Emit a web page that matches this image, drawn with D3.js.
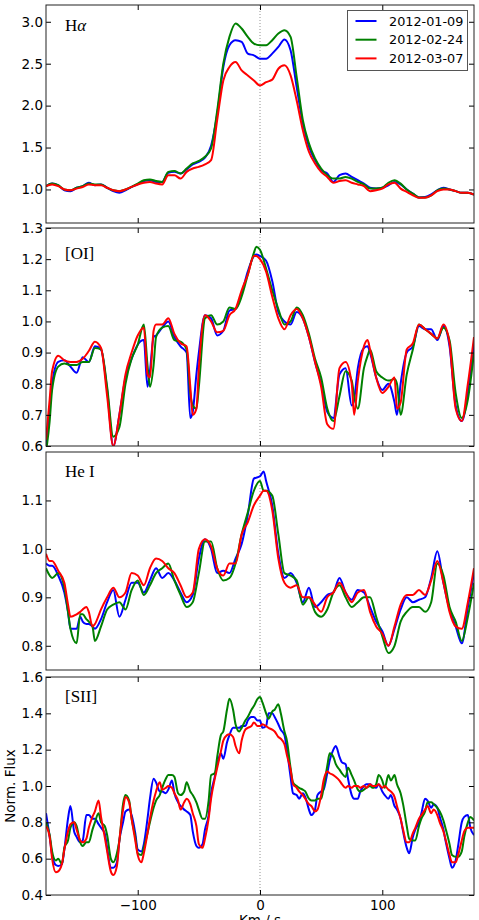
<!DOCTYPE html>
<html>
<head>
<meta charset="utf-8">
<script src="https://cdn.jsdelivr.net/npm/d3@7"></script>
<style>
body { margin: 0; background: #fff; }
</style>
</head>
<body>
<svg id="chart" width="479" height="920"></svg>
<script>
// dates / colours of the three spectra
var dates = ["2012-01-09", "2012-02-24", "2012-03-07"];
var lineColors = ["#0000ff", "#008000", "#ff0000"];
var lineNames = ["H\u03b1", "[OI]", "He I", "[SII]"];
var xTicks = [-100, 0, 100];

// H alpha
var haVel = [-175,-170,-165,-160,-155,-150,-145,-140,-135,-130,
    -125,-120,-115,-110,-105,-100,-95,-90,-85,-80,
    -75,-70,-65,-60,-55,-50,-45,-40,-35,-30,
    -25,-20,-15,-10,-5,0,5,10,15,20,
    25,30,35,40,45,50,55,60,65,70,
    75,80,85,90,95,100,105,110,115,120,
    125,130,135,140,145,150,155,160,165,170,
    175];
var haBlue = [1.04,1.07,1.05,0.99,0.98,1.02,1.04,1.08,1.05,1.06,
    1.02,0.98,0.96,0.99,1.03,1.06,1.10,1.11,1.09,1.09,
    1.20,1.21,1.19,1.24,1.30,1.33,1.38,1.52,1.90,2.46,
    2.72,2.78,2.76,2.62,2.60,2.56,2.56,2.62,2.70,2.79,
    2.66,2.22,1.79,1.51,1.35,1.23,1.19,1.09,1.17,1.19,
    1.15,1.11,1.07,1.02,1.01,1.02,1.05,1.09,1.06,1.00,
    0.95,0.905,0.91,0.94,0.99,1.02,1.00,0.98,0.96,0.96,
    0.94];
var haGreen = [1.04,1.07,1.05,1.00,0.99,1.02,1.04,1.07,1.06,1.06,
    1.02,0.99,0.98,1.00,1.03,1.07,1.11,1.12,1.10,1.09,
    1.21,1.22,1.19,1.25,1.31,1.34,1.39,1.49,1.94,2.50,
    2.82,2.98,2.92,2.82,2.74,2.72,2.72,2.78,2.86,2.90,
    2.82,2.34,1.83,1.55,1.37,1.25,1.17,1.13,1.13,1.15,
    1.13,1.09,1.06,1.01,1.01,1.02,1.08,1.11,1.07,1.00,
    0.95,0.905,0.905,0.93,0.99,1.01,1.00,0.98,0.96,0.96,
    0.94];
var haRed = [1.04,1.06,1.04,1.00,0.99,1.01,1.03,1.06,1.05,1.05,
    1.02,0.99,0.98,1.00,1.03,1.06,1.08,1.09,1.07,1.06,
    1.17,1.17,1.13,1.21,1.25,1.27,1.30,1.35,1.83,2.30,
    2.46,2.52,2.42,2.36,2.30,2.24,2.28,2.31,2.44,2.48,
    2.36,2.06,1.71,1.45,1.31,1.21,1.15,1.08,1.10,1.11,
    1.08,1.06,1.04,0.98,0.99,1.01,1.06,1.08,1.01,0.97,
    0.93,0.90,0.90,0.93,0.98,1.00,1.00,0.98,0.96,0.96,
    0.94];
var haTicks = [1.0, 1.5, 2.0, 2.5, 3.0];

// [OI]
var oiVel = [-175,-172,-170,-165,-160,-155,-150,-145,-140,-135,
    -130,-125,-120,-115,-110,-105,-100,-95,-92,-90,
    -87,-85,-80,-75,-70,-65,-60,-57,-55,-52,
    -50,-45,-40,-35,-30,-25,-20,-15,-10,-5,
    -3,0,5,10,15,20,25,30,35,40,
    45,50,55,60,65,70,75,77,80,85,
    88,90,95,100,105,110,112,115,120,125,
    130,135,140,145,150,155,160,165,170,175];
var oiBlue = [0.60,0.72,0.80,0.87,0.875,0.855,0.835,0.885,0.87,0.92,
    0.91,0.78,0.60,0.70,0.82,0.88,0.925,0.94,0.79,0.84,
    0.95,0.955,0.98,1.00,0.95,0.92,0.90,0.69,0.71,0.83,
    0.90,1.02,1.01,0.955,0.97,1.035,1.04,1.09,1.16,1.21,
    1.215,1.21,1.195,1.13,1.03,1.00,0.99,1.03,1.01,0.95,
    0.87,0.80,0.71,0.69,0.83,0.85,0.73,0.75,0.85,0.915,
    0.92,0.90,0.82,0.78,0.80,0.74,0.70,0.80,0.90,0.92,
    0.985,0.975,0.975,0.94,0.985,0.92,0.73,0.68,0.77,0.93];
var oiGreen = [0.58,0.68,0.78,0.855,0.865,0.86,0.86,0.87,0.87,0.915,
    0.91,0.79,0.63,0.66,0.80,0.88,0.925,0.99,0.86,0.79,
    0.86,0.95,0.98,0.985,0.94,0.935,0.91,0.77,0.73,0.72,
    0.79,1.01,1.02,0.99,1.00,1.045,1.04,1.08,1.15,1.22,
    1.24,1.23,1.17,1.10,1.04,0.99,1.00,1.045,1.02,0.96,
    0.88,0.82,0.72,0.68,0.76,0.84,0.81,0.76,0.72,0.85,
    0.89,0.91,0.84,0.82,0.81,0.815,0.80,0.70,0.83,0.91,
    0.99,0.975,0.96,0.945,0.98,0.94,0.77,0.69,0.75,0.90];
var oiRed = [0.62,0.75,0.84,0.89,0.875,0.87,0.87,0.88,0.905,0.935,
    0.915,0.76,0.60,0.70,0.83,0.90,0.955,0.98,0.83,0.82,
    0.97,0.99,0.99,1.01,0.96,0.93,0.92,0.79,0.70,0.72,
    0.85,1.02,1.00,0.965,0.97,1.02,1.04,1.10,1.15,1.21,
    1.21,1.20,1.16,1.08,1.01,0.975,1.02,1.04,1.01,0.95,
    0.87,0.79,0.67,0.655,0.85,0.87,0.80,0.70,0.81,0.92,
    0.94,0.91,0.82,0.77,0.79,0.82,0.72,0.74,0.91,0.93,
    0.99,0.975,0.96,0.945,0.99,0.93,0.72,0.68,0.80,0.95];
var oiTicks = [0.6, 0.7, 0.8, 0.9, 1.0, 1.1, 1.2, 1.3];

// He I
var heVel = [-175,-172,-170,-165,-160,-157,-155,-150,-147,-145,
    -142,-140,-137,-135,-130,-125,-120,-115,-110,-105,
    -100,-95,-90,-85,-80,-75,-70,-65,-60,-55,
    -50,-45,-40,-35,-30,-25,-20,-15,-10,-5,
    0,3,5,10,15,20,25,30,35,40,
    45,50,55,60,65,70,75,80,85,90,
    95,100,105,110,115,120,125,130,135,140,
    145,150,155,160,165,170,175];
var heBlue = [0.97,0.965,0.965,0.945,0.91,0.87,0.835,0.835,0.86,0.85,
    0.845,0.845,0.84,0.835,0.855,0.89,0.915,0.86,0.895,0.93,
    0.93,0.91,0.935,0.96,0.94,0.95,0.935,0.91,0.89,0.905,
    0.98,1.02,1.00,0.95,0.955,0.95,0.98,1.01,1.07,1.145,
    1.15,1.16,1.14,1.09,0.99,0.94,0.95,0.93,0.89,0.92,
    0.88,0.89,0.905,0.91,0.94,0.91,0.895,0.915,0.91,0.88,
    0.85,0.83,0.80,0.835,0.875,0.90,0.89,0.895,0.90,0.94,
    0.995,0.93,0.875,0.84,0.805,0.88,0.95];
var heGreen = [0.96,0.945,0.94,0.95,0.92,0.87,0.835,0.805,0.865,0.865,
    0.855,0.85,0.84,0.81,0.84,0.875,0.885,0.89,0.875,0.915,
    0.935,0.905,0.925,0.95,0.96,0.97,0.935,0.905,0.88,0.89,
    0.95,1.015,1.015,0.96,0.935,0.94,0.97,1.03,1.075,1.12,
    1.14,1.12,1.12,1.11,1.03,0.95,0.945,0.935,0.885,0.90,
    0.87,0.86,0.875,0.91,0.925,0.90,0.88,0.89,0.90,0.90,
    0.86,0.82,0.785,0.80,0.85,0.87,0.88,0.88,0.87,0.89,
    0.97,0.945,0.88,0.85,0.81,0.86,0.93];
var heRed = [0.99,0.975,0.975,0.955,0.93,0.885,0.86,0.865,0.87,0.875,
    0.88,0.87,0.84,0.845,0.875,0.90,0.92,0.90,0.91,0.95,
    0.945,0.925,0.96,0.98,0.975,0.96,0.95,0.925,0.90,0.91,
    1.00,1.02,1.005,0.96,0.945,0.97,0.97,1.03,1.055,1.09,
    1.11,1.12,1.12,1.08,0.98,0.93,0.92,0.925,0.90,0.90,
    0.885,0.87,0.90,0.91,0.93,0.91,0.89,0.91,0.915,0.87,
    0.84,0.825,0.80,0.84,0.885,0.905,0.905,0.915,0.905,0.935,
    0.975,0.93,0.87,0.84,0.835,0.89,0.96];
var heTicks = [0.8, 0.9, 1.0, 1.1];

// [SII]
var siiVel = [-175,-172,
    -170,-167,-165,-162,-160,-157,-155,-152,-150,-147,
    -145,-142,-140,-137,-135,-132,-130,-127,-125,-122,
    -120,-117,-115,-112,-110,-107,-105,-102,-100,-97,
    -95,-92,-90,-87,-85,-82,-80,-77,-75,-72,
    -70,-67,-65,-62,-60,-57,-55,-52,-50,-47,
    -45,-42,-40,-37,-35,-32,-30,-27,-25,-22,
    -20,-17,-15,-12,-10,-7,-5,-2,
    0,2,5,7,10,12,15,17,20,22,
    25,27,30,32,35,37,40,42,45,47,
    50,52,55,57,60,62,65,67,70,72,
    75,77,80,82,85,87,90,92,95,97,
    100,102,105,107,110,112,115,117,120,122,
    125,127,130,132,135,137,140,142,145,147,
    150,152,155,157,160,162,165,167,170,172,
    175];
var siiBlue = [0.85,0.72,
    0.62,0.565,0.56,0.57,0.65,0.82,0.89,0.75,0.72,0.69,
    0.70,0.84,0.84,0.82,0.82,0.79,0.77,0.74,0.66,0.55,
    0.55,0.58,0.70,0.80,0.86,0.87,0.84,0.74,0.65,0.64,
    0.68,0.82,0.93,1.04,1.02,0.97,0.97,0.96,0.98,1.03,
    0.96,0.91,0.89,0.87,0.86,0.84,0.75,0.67,0.66,0.68,
    0.76,0.84,0.96,1.05,1.12,1.18,1.15,1.24,1.28,1.32,
    1.32,1.32,1.33,1.33,1.36,1.38,1.38,1.36,
    1.36,1.32,1.33,1.40,1.40,1.38,1.34,1.31,1.28,1.20,
    1.05,0.96,0.95,0.93,0.96,0.94,0.87,0.84,0.87,0.95,
    0.97,0.98,1.07,1.14,1.20,1.22,1.16,1.13,1.12,1.04,
    0.95,0.93,0.93,0.97,1.00,1.01,1.01,1.00,0.99,1.01,
    0.97,0.95,0.93,0.95,0.89,0.87,0.82,0.75,0.66,0.63,
    0.72,0.76,0.80,0.85,0.93,0.92,0.88,0.90,0.88,0.83,
    0.76,0.69,0.60,0.55,0.59,0.67,0.80,0.83,0.84,0.77,
    0.73];
var siiGreen = [0.80,0.73,
    0.64,0.59,0.60,0.57,0.66,0.70,0.77,0.80,0.78,0.69,
    0.67,0.69,0.69,0.76,0.80,0.85,0.80,0.78,0.73,0.60,
    0.58,0.63,0.70,0.90,0.95,0.92,0.82,0.72,0.63,0.62,
    0.66,0.74,0.80,0.88,0.92,0.95,0.99,1.04,1.06,1.06,
    1.05,0.96,0.95,0.97,1.02,0.97,0.95,0.91,0.87,0.82,
    0.82,0.92,1.06,1.07,1.16,1.28,1.30,1.42,1.48,1.42,
    1.34,1.30,1.32,1.36,1.38,1.42,1.44,1.48,
    1.49,1.46,1.40,1.37,1.41,1.42,1.45,1.40,1.30,1.25,
    1.10,1.02,1.00,0.99,0.98,0.97,0.93,0.92,0.92,0.93,
    0.93,0.99,1.11,1.18,1.16,1.12,1.09,1.07,1.05,1.10,
    1.06,1.03,0.98,0.97,0.98,0.99,1.00,0.99,1.01,1.06,
    1.03,0.99,1.06,1.03,1.06,1.01,0.96,0.90,0.78,0.71,
    0.70,0.70,0.78,0.82,0.86,0.91,0.91,0.90,0.88,0.86,
    0.81,0.76,0.68,0.62,0.61,0.61,0.64,0.72,0.80,0.83,
    0.81];
var siiRed = [0.78,0.72,
    0.60,0.525,0.53,0.57,0.65,0.75,0.79,0.80,0.76,0.70,
    0.69,0.71,0.77,0.83,0.86,0.92,0.83,0.72,0.64,0.53,
    0.51,0.56,0.70,0.87,0.94,0.91,0.82,0.70,0.62,0.58,
    0.63,0.74,0.82,0.92,0.97,1.02,0.98,0.99,1.00,0.99,
    0.96,0.92,0.87,0.91,0.93,0.90,0.85,0.78,0.68,0.66,
    0.71,0.82,0.93,1.04,1.10,1.19,1.25,1.28,1.285,1.27,
    1.22,1.18,1.25,1.31,1.32,1.33,1.35,1.33,
    1.33,1.34,1.33,1.32,1.31,1.30,1.27,1.26,1.23,1.17,
    1.09,1.01,0.99,0.97,0.95,0.93,0.90,0.89,0.86,0.87,
    0.95,1.03,1.08,1.07,1.06,1.05,1.03,1.01,0.99,1.00,
    0.99,1.00,1.00,0.99,1.00,0.99,1.01,1.00,1.00,1.01,
    0.99,1.00,0.98,0.97,0.94,0.89,0.82,0.76,0.69,0.69,
    0.74,0.77,0.82,0.84,0.87,0.89,0.85,0.87,0.84,0.80,
    0.75,0.70,0.62,0.58,0.58,0.62,0.70,0.75,0.77,0.77,
    0.77];
var siiTicks = [0.4, 0.6, 0.8, 1.0, 1.2, 1.4, 1.6];

// panel table built from the arrays above
var panels = [
    {name: lineNames[0], vel: haVel, series: [haBlue, haGreen, haRed], ticks: haTicks, domain: [0.6, 3.2], top: 5, labelDy: 26},
    {name: lineNames[1], vel: oiVel, series: [oiBlue, oiGreen, oiRed], ticks: oiTicks, domain: [0.6, 1.3], top: 228, labelDy: 31},
    {name: lineNames[2], vel: heVel, series: [heBlue, heGreen, heRed], ticks: heTicks, domain: [0.75, 1.2], top: 452, labelDy: 25},
    {name: lineNames[3], vel: siiVel, series: [siiBlue, siiGreen, siiRed], ticks: siiTicks, domain: [0.4, 1.6], top: 677, labelDy: 24.5}
];

panels.forEach(function(p) {
    p.series.forEach(function(s, i) {
        if (s.length !== p.vel.length) {
            throw new Error(p.name + " series " + i + " has " + s.length + " values, vel has " + p.vel.length);
        }
    });
});

var svg = d3.select("#chart");
var left = 46, right = 474, panelH = 218;
var tickFont = "DejaVu Sans, sans-serif";

var xScale = d3.scaleLinear().domain([-175, 175]).range([left, right]);

panels.forEach(function(p, pi) {
    var yScale = d3.scaleLinear().domain(p.domain).range([p.top + panelH, p.top]);
    var g = svg.append("g");

    g.append("clipPath").attr("id", "clip" + pi)
        .append("rect")
        .attr("x", left).attr("y", p.top)
        .attr("width", right - left).attr("height", panelH);

    // zero velocity line
    g.append("line")
        .attr("x1", xScale(0)).attr("x2", xScale(0))
        .attr("y1", p.top).attr("y2", p.top + panelH)
        .attr("stroke", "#777")
        .attr("stroke-width", 0.8)
        .attr("stroke-dasharray", "1,2");

    var line = d3.line()
        .x(function(d) { return xScale(d[0]); })
        .y(function(d) { return yScale(d[1]); })
        .curve(d3.curveMonotoneX);

    var lines = g.append("g").attr("clip-path", "url(#clip" + pi + ")");
    p.series.forEach(function(s, i) {
        lines.append("path")
            .datum(d3.zip(p.vel, s))
            .attr("d", line)
            .attr("fill", "none")
            .attr("stroke", lineColors[i])
            .attr("stroke-width", 2)
            .attr("stroke-linejoin", "round");
    });

    // axes, ticks pointing inward on all four sides
    var fmt = d3.format(".1f");
    var yLeft = g.append("g")
        .attr("transform", "translate(" + left + ",0)")
        .call(d3.axisLeft(yScale).tickValues(p.ticks).tickSizeInner(-5).tickSizeOuter(0).tickPadding(3).tickFormat(fmt));
    g.append("g")
        .attr("transform", "translate(" + right + ",0)")
        .call(d3.axisRight(yScale).tickValues(p.ticks).tickSizeInner(-5).tickSizeOuter(0).tickFormat(""));
    g.append("g")
        .attr("transform", "translate(0," + p.top + ")")
        .call(d3.axisTop(xScale).tickValues(xTicks).tickSizeInner(-5).tickSizeOuter(0).tickFormat(""));
    var xBottom = g.append("g")
        .attr("transform", "translate(0," + (p.top + panelH) + ")")
        .call(d3.axisBottom(xScale).tickValues(xTicks).tickSizeInner(-5).tickSizeOuter(0).tickPadding(5)
            .tickFormat(pi === panels.length - 1 ? d3.format("d") : ""));

    g.selectAll(".domain").remove();
    g.selectAll(".tick line").attr("stroke", "#000");
    g.selectAll(".tick text")
        .attr("fill", "#000")
        .style("font-family", tickFont)
        .style("font-size", "13.5px");

    // frame
    g.append("rect")
        .attr("x", left).attr("y", p.top)
        .attr("width", right - left).attr("height", panelH)
        .attr("fill", "none")
        .attr("stroke", "#222")
        .attr("stroke-width", 1);

    // line name
    var lbl = g.append("text")
        .attr("x", left + 19)
        .attr("y", p.top + p.labelDy)
        .style("font-family", "Liberation Serif, serif")
        .style("font-size", "17px")
        .attr("fill", "#000");
    if (pi === 0) {
        lbl.append("tspan").text("H");
        lbl.append("tspan").style("font-style", "italic").text("\u03b1");
    } else {
        lbl.text(p.name);
    }
});

// legend
var legend = svg.append("g").attr("transform", "translate(347.5,10.5)");
legend.append("rect")
    .attr("width", 120).attr("height", 60)
    .attr("fill", "#fff")
    .attr("stroke", "#555")
    .attr("stroke-width", 1);
dates.forEach(function(d, i) {
    var y = 10.5 + i * 18.7;
    legend.append("line")
        .attr("x1", 8).attr("x2", 29)
        .attr("y1", y).attr("y2", y)
        .attr("stroke", lineColors[i])
        .attr("stroke-width", 2);
    legend.append("text")
        .attr("x", 41.5).attr("y", y)
        .attr("dy", "0.36em")
        .style("font-family", tickFont)
        .style("font-size", "12.8px")
        .attr("fill", "#000")
        .text(d);
});

// axis titles
svg.append("text")
    .attr("transform", "translate(15,786) rotate(-90)")
    .attr("text-anchor", "middle")
    .style("font-family", tickFont)
    .style("font-size", "13.5px")
    .text("Norm. Flux");

svg.append("text")
    .attr("x", xScale(0))
    .attr("y", 925)
    .attr("text-anchor", "middle")
    .style("font-family", tickFont)
    .style("font-size", "13.5px")
    .text("Km / s");
</script>
</body>
</html>
